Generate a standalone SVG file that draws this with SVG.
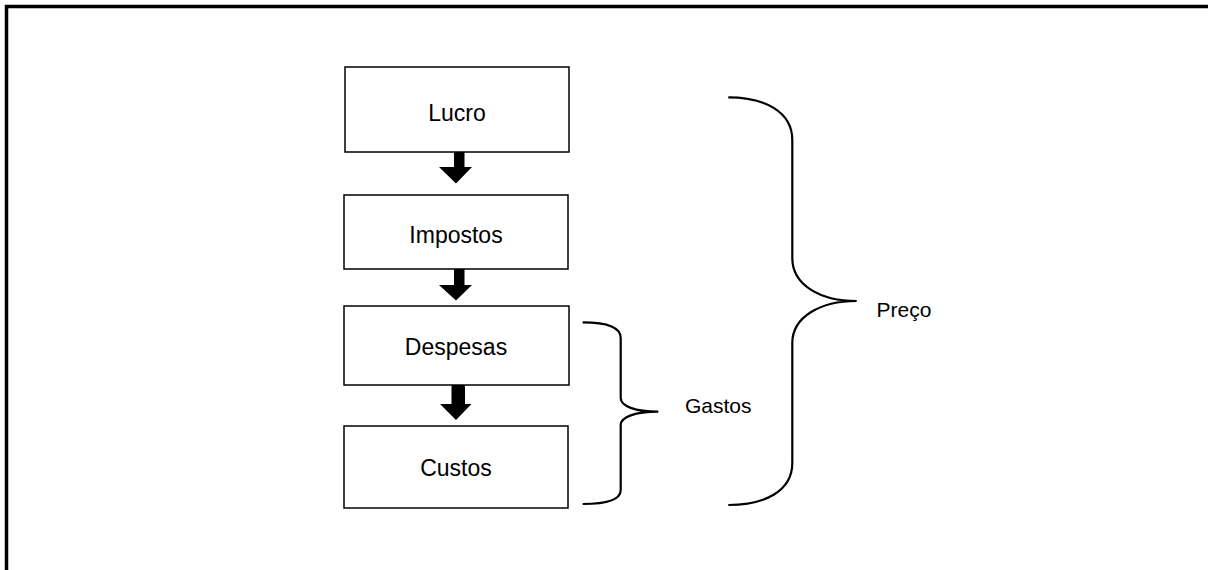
<svg xmlns="http://www.w3.org/2000/svg" width="1208" height="570" viewBox="0 0 1208 570">
<style>
.box{fill:#fff;stroke:#000;stroke-width:1.5}
.lbl{font-family:"Liberation Sans",Arial,sans-serif;font-size:23px;fill:#000;text-anchor:middle}
.side{font-family:"Liberation Sans",Arial,sans-serif;font-size:21px;fill:#000}
.brace{fill:none;stroke:#000;stroke-width:2.2}
.arr{fill:#000;stroke:none}
</style>
<rect x="6.5" y="6.5" width="1300" height="700" fill="#fff" stroke="#000" stroke-width="3.5"/>
<g id="lucro"><rect class="box" x="345" y="67" width="224" height="85"/><text class="lbl" x="457" y="121">Lucro</text></g>
<g id="impostos"><rect class="box" x="344" y="195" width="224" height="74"/><text class="lbl" x="456" y="243">Impostos</text></g>
<g id="despesas"><rect class="box" x="344" y="306" width="225" height="79"/><text class="lbl" x="456" y="355">Despesas</text></g>
<g id="custos"><rect class="box" x="344" y="426" width="224" height="82"/><text class="lbl" x="456" y="476">Custos</text></g>
<g id="connectors">
<path class="arr" d="M454 152 H464.5 V167 H472 L456 183.5 L439 167 H454 Z"/>
<path class="arr" d="M454 269 H464.5 V285 H472 L456 300.5 L439 285 H454 Z"/>
<path class="arr" d="M451.5 385 H465 V404 H471.5 L456 420 L440 404 H451.5 Z"/>
</g>
<g id="gastos">
<path class="brace" d="M582.7 322.3 C605 322.3 620.7 326 620.7 338 V398 C620.7 406 635 411.7 658.3 411.7 C635 411.7 620.7 417 620.7 425 V490 C620.7 500 605 504 582.7 504"/>
<text class="side" x="685" y="413">Gastos</text>
</g>
<g id="preco">
<path class="brace" d="M728.3 97.3 C765 97.3 792.3 112 792.3 140 V258 C792.3 285 820 301 856.7 301 C820 301 792.3 317 792.3 343 V463 C792.3 491 765 505 728.3 505"/>
<text class="side" x="876.5" y="317.3" font-size="20.5">Preço</text>
</g>
</svg>
